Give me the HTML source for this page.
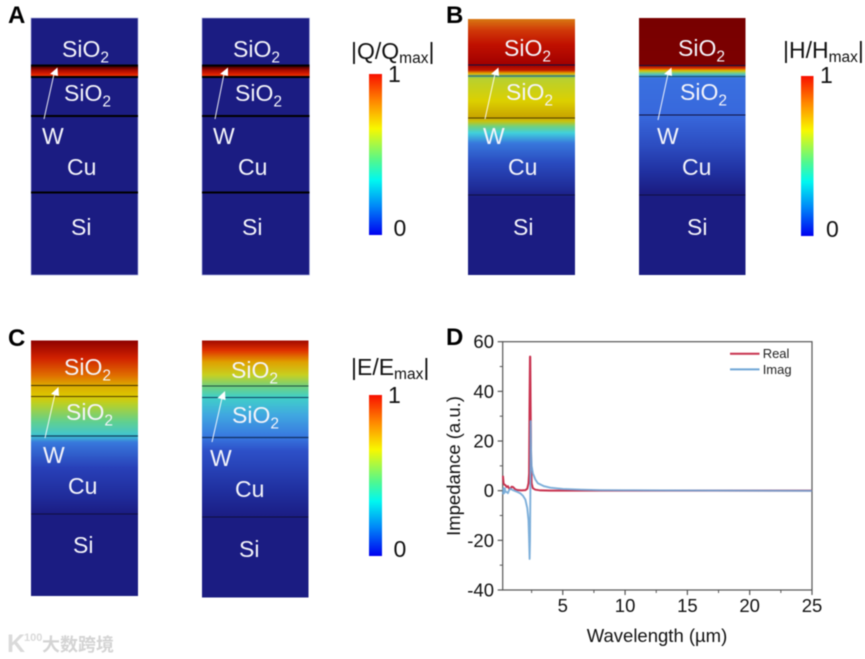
<!DOCTYPE html>
<html lang="en">
<head>
<meta charset="utf-8">
<title>Field distributions and impedance</title>
<style>
html,body{margin:0;padding:0;background:#fff;width:865px;height:659px;overflow:hidden}
svg{display:block;font-family:"Liberation Sans","Noto Sans CJK SC",sans-serif;filter:blur(0.5px)}
.lb{font-size:23px;fill:#f4f4fa}
.sub{font-size:15.5px}
.ttl{font-size:23px;fill:#111}
.num{font-size:23px;fill:#111}
.let{font-size:24px;font-weight:bold;fill:#000}
.ln{stroke:#000;stroke-width:2}
.thin{stroke:#101040;stroke-width:1.1}
.arr{stroke:#fff;stroke-width:1;fill:none;opacity:.9}
.tip{fill:#fff}
</style>
</head>
<body>
<svg id="figure" xmlns="http://www.w3.org/2000/svg" width="865" height="659" viewBox="0 0 865 659">
<defs>
<linearGradient id="jet" x1="0" y1="1" x2="0" y2="0">
<stop offset="0" stop-color="#0000f0"/><stop offset=".18" stop-color="#0088f8"/><stop offset=".34" stop-color="#00f8f0"/><stop offset=".46" stop-color="#50f890"/><stop offset=".66" stop-color="#f8f800"/><stop offset=".83" stop-color="#ff8800"/><stop offset="1" stop-color="#f81000"/>
</linearGradient>
<linearGradient id="band" x1="0" y1="0" x2="0" y2="1">
<stop offset="0" stop-color="#300000"/><stop offset=".35" stop-color="#a00800"/><stop offset=".75" stop-color="#e02000"/><stop offset="1" stop-color="#e84000"/>
</linearGradient>
<linearGradient id="bl" gradientUnits="userSpaceOnUse" x1="0" y1="19" x2="0" y2="275">
<stop offset="0" stop-color="#d87812"/><stop offset=".045" stop-color="#d03808"/><stop offset=".1" stop-color="#c01000"/><stop offset=".18" stop-color="#a00000"/><stop offset=".2" stop-color="#c01800"/><stop offset=".213" stop-color="#e8b000"/><stop offset=".224" stop-color="#70c070"/><stop offset=".232" stop-color="#b8d030"/><stop offset=".32" stop-color="#dcd000"/><stop offset=".385" stop-color="#c8a400"/><stop offset=".4" stop-color="#c8c410"/><stop offset=".42" stop-color="#70d080"/><stop offset=".445" stop-color="#40d0dc"/><stop offset=".485" stop-color="#3878dc"/><stop offset=".56" stop-color="#2a4cc0"/><stop offset=".66" stop-color="#1f2c98"/><stop offset=".7" stop-color="#1b1c82"/><stop offset="1" stop-color="#1b1c82"/>
</linearGradient>
<linearGradient id="br" gradientUnits="userSpaceOnUse" x1="0" y1="18" x2="0" y2="275">
<stop offset="0" stop-color="#780000"/><stop offset=".183" stop-color="#7c0000"/><stop offset=".195" stop-color="#d83000"/><stop offset=".205" stop-color="#e0c000"/><stop offset=".215" stop-color="#70d090"/><stop offset=".225" stop-color="#40a8e0"/><stop offset=".235" stop-color="#3a70e0"/><stop offset=".38" stop-color="#3868dc"/><stop offset=".5" stop-color="#2c4cc0"/><stop offset=".6" stop-color="#2030a0"/><stop offset=".68" stop-color="#1b1c82"/><stop offset="1" stop-color="#1b1c82"/>
</linearGradient>
<linearGradient id="cl" gradientUnits="userSpaceOnUse" x1="0" y1="340" x2="0" y2="596">
<stop offset="0" stop-color="#8c0000"/><stop offset=".07" stop-color="#d02000"/><stop offset=".14" stop-color="#e07000"/><stop offset=".176" stop-color="#dca800"/><stop offset=".22" stop-color="#dcc800"/><stop offset=".25" stop-color="#b8d028"/><stop offset=".32" stop-color="#60d090"/><stop offset=".375" stop-color="#40c4d4"/><stop offset=".4" stop-color="#3878dc"/><stop offset=".5" stop-color="#2840b8"/><stop offset=".62" stop-color="#1f2a98"/><stop offset=".68" stop-color="#1b1c82"/><stop offset="1" stop-color="#1b1c82"/>
</linearGradient>
<linearGradient id="cr" gradientUnits="userSpaceOnUse" x1="0" y1="340" x2="0" y2="598">
<stop offset="0" stop-color="#9c0800"/><stop offset=".04" stop-color="#e03000"/><stop offset=".085" stop-color="#e0a000"/><stop offset=".135" stop-color="#c8d020"/><stop offset=".18" stop-color="#70d080"/><stop offset=".222" stop-color="#40d0c8"/><stop offset=".29" stop-color="#40a8e0"/><stop offset=".375" stop-color="#3878e0"/><stop offset=".43" stop-color="#2d50c8"/><stop offset=".58" stop-color="#2030a0"/><stop offset=".69" stop-color="#1b1c82"/><stop offset="1" stop-color="#1b1c82"/>
</linearGradient>
</defs>

<!-- Panel A -->
<text class="let" x="8" y="23">A</text>
<g>
<rect x="31" y="18" width="107" height="257" fill="#1b1c82" stroke="#aab0e0" stroke-width=".6"/>
<rect x="31" y="66" width="107" height="11" fill="url(#band)"/>
<line class="ln" x1="31" x2="138" y1="65.5" y2="65.5"/><line class="ln" x1="31" x2="138" y1="77" y2="77"/><line class="ln" x1="31" x2="138" y1="116" y2="116"/><line class="ln" x1="31" x2="138" y1="192.5" y2="192.5"/>
<line class="arr" x1="44" y1="119" x2="54" y2="74"/><polygon class="tip" points="57.5,67.5 50,74 58,76"/>
<text class="lb" x="62" y="57">SiO<tspan class="sub" dy="5.5">2</tspan></text>
<text class="lb" x="64" y="101">SiO<tspan class="sub" dy="5.5">2</tspan></text>
<text class="lb" x="42" y="144">W</text><text class="lb" x="67" y="175">Cu</text><text class="lb" x="71" y="235">Si</text>
</g>
<g>
<rect x="202" y="18" width="107.5" height="257" fill="#1b1c82" stroke="#aab0e0" stroke-width=".6"/>
<rect x="202" y="66" width="107.5" height="11" fill="url(#band)"/>
<line class="ln" x1="202" x2="309.5" y1="65.5" y2="65.5"/><line class="ln" x1="202" x2="309.5" y1="77" y2="77"/><line class="ln" x1="202" x2="309.5" y1="116" y2="116"/><line class="ln" x1="202" x2="309.5" y1="192.5" y2="192.5"/>
<line class="arr" x1="215" y1="119" x2="224" y2="74"/><polygon class="tip" points="228,67.5 220,74 228,76"/>
<text class="lb" x="233" y="57">SiO<tspan class="sub" dy="5.5">2</tspan></text>
<text class="lb" x="235" y="101">SiO<tspan class="sub" dy="5.5">2</tspan></text>
<text class="lb" x="213" y="144">W</text><text class="lb" x="238" y="175">Cu</text><text class="lb" x="242" y="235">Si</text>
</g>
<text class="ttl" x="351" y="59">|Q/Q<tspan class="sub" dy="4">max</tspan><tspan dy="-4">|</tspan></text>
<rect x="369" y="74" width="13" height="161" fill="url(#jet)"/>
<text class="num" x="388" y="82">1</text>
<text class="num" x="393.5" y="236">0</text>

<!-- Panel B -->
<text class="let" x="446" y="23">B</text>
<g>
<rect x="468" y="19" width="107" height="256" fill="url(#bl)"/>
<line class="thin" x1="468" x2="575" y1="65" y2="65"/><line x1="468" x2="575" y1="76" y2="76" stroke="#307080" stroke-width="1.2"/><line x1="468" x2="575" y1="118" y2="118" stroke="#504000" stroke-width="1.1"/><line class="thin" x1="468" x2="575" y1="195" y2="195"/>
<line class="arr" x1="485" y1="119" x2="495" y2="74"/><polygon class="tip" points="498.5,67.5 491,74 499,76"/>
<text class="lb" x="504" y="56">SiO<tspan class="sub" dy="5.5">2</tspan></text>
<text class="lb" x="506" y="100">SiO<tspan class="sub" dy="5.5">2</tspan></text>
<text class="lb" x="483" y="144">W</text><text class="lb" x="508" y="175">Cu</text><text class="lb" x="513" y="235">Si</text>
</g>
<g>
<rect x="639" y="18" width="106.5" height="257" fill="url(#br)"/>
<line class="thin" x1="639" x2="745.5" y1="65.5" y2="65.5"/><line x1="639" x2="745.5" y1="76.5" y2="76.5" stroke="#205070" stroke-width="1.2"/><line class="thin" x1="639" x2="745.5" y1="115" y2="115"/><line class="thin" x1="639" x2="745.5" y1="195" y2="195"/>
<line class="arr" x1="658" y1="120" x2="668" y2="74"/><polygon class="tip" points="671.5,67.5 664,74 672,76"/>
<text class="lb" x="678" y="56">SiO<tspan class="sub" dy="5.5">2</tspan></text>
<text class="lb" x="680" y="100">SiO<tspan class="sub" dy="5.5">2</tspan></text>
<text class="lb" x="657" y="144">W</text><text class="lb" x="682" y="175">Cu</text><text class="lb" x="687" y="235">Si</text>
</g>
<text class="ttl" x="783" y="58">|H/H<tspan class="sub" dy="4">max</tspan><tspan dy="-4">|</tspan></text>
<rect x="801" y="76" width="12.5" height="160" fill="url(#jet)"/>
<text class="num" x="820" y="83">1</text>
<text class="num" x="826" y="237">0</text>

<!-- Panel C -->
<text class="let" x="8" y="346">C</text>
<g>
<rect x="31" y="340.5" width="107" height="255.5" fill="url(#cl)"/>
<line x1="31" x2="138" y1="385.5" y2="385.5" stroke="#403000" stroke-width="1.1"/><line x1="31" x2="138" y1="396.5" y2="396.5" stroke="#504000" stroke-width="1.1"/><line x1="31" x2="138" y1="436" y2="436" stroke="#104060" stroke-width="1.2"/><line class="thin" x1="31" x2="138" y1="514" y2="514"/>
<line class="arr" x1="45" y1="438" x2="55" y2="394"/><polygon class="tip" points="58.5,387 51,394 59,396"/>
<text class="lb" x="64" y="375">SiO<tspan class="sub" dy="5.5">2</tspan></text>
<text class="lb" x="66" y="420">SiO<tspan class="sub" dy="5.5">2</tspan></text>
<text class="lb" x="43" y="463">W</text><text class="lb" x="68" y="494">Cu</text><text class="lb" x="73" y="553">Si</text>
</g>
<g>
<rect x="202" y="340.5" width="106.5" height="257" fill="url(#cr)"/>
<line x1="202" x2="308.5" y1="386" y2="386" stroke="#205040" stroke-width="1.1"/><line x1="202" x2="308.5" y1="397.5" y2="397.5" stroke="#104060" stroke-width="1.1"/><line x1="202" x2="308.5" y1="437.5" y2="437.5" stroke="#103060" stroke-width="1.2"/><line class="thin" x1="202" x2="308.5" y1="517" y2="517"/>
<line class="arr" x1="212" y1="442" x2="222" y2="398"/><polygon class="tip" points="225,391 217.5,398 225.5,400"/>
<text class="lb" x="231" y="378">SiO<tspan class="sub" dy="5.5">2</tspan></text>
<text class="lb" x="232" y="423">SiO<tspan class="sub" dy="5.5">2</tspan></text>
<text class="lb" x="210" y="466">W</text><text class="lb" x="235" y="497">Cu</text><text class="lb" x="239" y="557">Si</text>
</g>
<text class="ttl" x="351" y="375">|E/E<tspan class="sub" dy="4">max</tspan><tspan dy="-4">|</tspan></text>
<rect x="369" y="395" width="13" height="161" fill="url(#jet)"/>
<text class="num" x="388" y="403">1</text>
<text class="num" x="393.5" y="557">0</text>

<!-- Watermark -->
<g fill="#d4d4d4">
<text x="7" y="652" font-size="25" font-weight="bold" fill="#dadada">K</text>
<text x="24" y="641" font-size="11" font-weight="bold" fill="#dadada">100</text>
<text x="42" y="651" font-size="18" font-weight="bold">大数跨境</text>
</g>

<!-- Panel D -->
<text class="let" x="446" y="345">D</text>
<g id="chart-d"></g>
</svg>

<script>
var wavelengthReal = [0.2,0.25,0.3,0.4,0.5,0.6,0.7,0.8,0.9,1.0,1.1,1.2,1.4,1.7,2.0,2.15,2.25,2.3,2.33,2.37,2.39,2.42,2.46,2.5,2.6,2.8,3.2,4,10,25];
var realValues = [6,3,2.5,2.2,1.5,1.8,0.8,0.8,1.6,1.5,1,0.5,0.2,0.1,0.2,0.8,3,7,32,54,54,34,12,3,1,0.4,0.1,0,0,0];
var wavelengthImag = [0.2,0.25,0.3,0.35,0.4,0.5,0.6,0.7,0.8,0.9,1.0,1.2,1.4,1.6,1.8,2.0,2.15,2.25,2.3,2.34,2.37,2.4,2.42,2.46,2.5,2.6,2.8,3,3.5,4,5,6.5,8,10,13,25];
var imagValues = [-1.5,1,-1,1,-0.5,-0.5,-1,0.3,0.8,0.5,0.2,-0.2,-0.6,-1.1,-2,-3.6,-7,-12,-20,-27.5,-20,0,28,15,10,7,4.5,3,1.8,1.2,0.7,0.4,0.2,0.15,0.1,-0.05];
var xTickLabels = [5,10,15,20,25];
var xMinorTicks = [2.5,7.5,12.5,17.5,22.5];
var yTickLabels = [60,40,20,0,-20,-40];
var yMinorTicks = [50,30,10,-10,-30];
var seriesNames = ['Real','Imag'];

var NS = 'http://www.w3.org/2000/svg';
var chart = document.getElementById('chart-d');
var plotLeft = 502.7, plotRight = 812, plotTop = 341.7, plotBottom = 590;
var xDomainMin = 0.18, xDomainMax = 25, yDomainMin = -40, yDomainMax = 60;
function xScale(v){ return plotLeft + (v - xDomainMin) / (xDomainMax - xDomainMin) * (plotRight - plotLeft); }
function yScale(v){ return plotBottom - (v - yDomainMin) / (yDomainMax - yDomainMin) * (plotBottom - plotTop); }
function make(tag, attrs, parent){
  var el = document.createElementNS(NS, tag);
  for (var k in attrs) { el.setAttribute(k, attrs[k]); }
  (parent || chart).appendChild(el);
  return el;
}
var axisColor = '#555';

var frame = make('rect', {x:plotLeft, y:plotTop, width:plotRight-plotLeft, height:plotBottom-plotTop, fill:'none', stroke:axisColor, 'stroke-width':1.2});



xTickLabels.forEach(function(v){
  var t = make('line', {x1:xScale(v), x2:xScale(v), y1:plotBottom, y2:plotBottom+5, stroke:axisColor, 'stroke-width':1.2});
  
  
  var lab = make('text', {x:xScale(v), y:612, 'text-anchor':'middle', 'font-size':18.5, fill:'#111'});
  lab.textContent = v;
  
  
});
xMinorTicks.forEach(function(v){
  var t = make('line', {x1:xScale(v), x2:xScale(v), y1:plotBottom, y2:plotBottom+3, stroke:axisColor, 'stroke-width':1});
  
  
});
yTickLabels.forEach(function(v){
  var t = make('line', {x1:plotLeft-5, x2:plotLeft, y1:yScale(v), y2:yScale(v), stroke:axisColor, 'stroke-width':1.2});
  
  
  var lab = make('text', {x:494, y:yScale(v)+6.5, 'text-anchor':'end', 'font-size':18.5, fill:'#111'});
  lab.textContent = v;
  
  
});
yMinorTicks.forEach(function(v){
  var t = make('line', {x1:plotLeft-3, x2:plotLeft, y1:yScale(v), y2:yScale(v), stroke:axisColor, 'stroke-width':1});
  
  
});

function linePath(xs, ys){
  return xs.map(function(x, i){ return (i ? 'L' : 'M') + xScale(x).toFixed(2) + ' ' + yScale(ys[i]).toFixed(2); }).join(' ');
}
var realLine = make('path', {d:linePath(wavelengthReal, realValues), fill:'none', stroke:'#c8324f', 'stroke-width':2, 'stroke-linejoin':'round'});


var imagLine = make('path', {d:linePath(wavelengthImag, imagValues), fill:'none', stroke:'#6fa6d6', 'stroke-width':1.9, 'stroke-linejoin':'round', 'stroke-opacity':0.9});



var xTitle = make('text', {x:657, y:642, 'text-anchor':'middle', 'font-size':18.5, fill:'#111'});
xTitle.textContent = 'Wavelength (µm)';


var yTitle = make('text', {x:0, y:0, transform:'translate(460 466) rotate(-90)', 'text-anchor':'middle', 'font-size':18.5, fill:'#111'});
yTitle.textContent = 'Impedance (a.u.)';



var legendColors = ['#c8324f', '#6fa6d6'];
seriesNames.forEach(function(name, i){
  var ly = 353.7 + i * 15.7;
  var sw = make('line', {x1:730, x2:759.5, y1:ly, y2:ly, stroke:legendColors[i], 'stroke-width':2});
  
  
  var tx = make('text', {x:762.7, y:ly+4.4, 'font-size':13, fill:'#222'});
  tx.textContent = name;
  
  
});
</script>
</body>
</html>
